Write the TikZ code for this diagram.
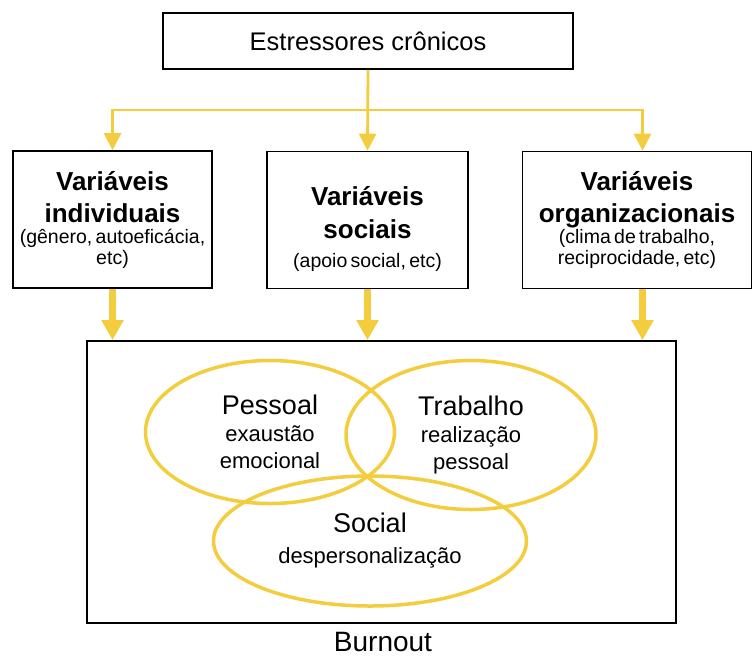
\documentclass[tikz,border=0pt]{standalone}
\usepackage{fontspec}
\setmainfont{Liberation Sans}
\usetikzlibrary{arrows.meta,shapes.geometric}
\definecolor{burnyellow}{RGB}{244,205,62}
\begin{document}
\begin{tikzpicture}[x=1pt,y=-1pt,
  box/.style={draw=black,line width=1.6pt,inner sep=0pt,align=center},
  varbox/.style={box,minimum height=137pt,text width=196pt},
  venn/.style={draw=burnyellow,line width=3.5pt,ellipse,inner sep=0pt,align=center,text width=#1},
  feed/.style={draw=burnyellow,line width=2.8pt,line join=miter,-{Triangle[width=17pt,length=17pt]}},
  flow/.style={draw=burnyellow,line width=7.5pt,-{Triangle[width=21pt,length=20pt]}}
]
\useasboundingbox (0,0) rectangle (752,657);

% source of stress
\node[box,minimum width=410pt,minimum height=56pt,font=\fontsize{25.5}{30}\selectfont]
  (stress) at (368,41) {Estressores crônicos};

% the three groups of variables
\node[varbox,minimum width=199pt] (indiv) at (112.5,219.5)
  {{\fontsize{26}{32}\selectfont\bfseries Variáveis\\individuais\par}
   {\fontsize{19.5}{21}\selectfont (gênero, autoeficácia,\\etc)\par}};
\node[varbox,minimum width=201pt] (soc) at (367.5,220)
  {{\fontsize{26}{33}\selectfont\bfseries\rule{0pt}{37pt}Variáveis\\sociais\par}
   {\fontsize{19.5}{29}\selectfont (apoio social, etc)\par}};
\node[varbox,minimum width=229pt,text width=226pt] (org) at (637,220)
  {{\fontsize{26}{32}\selectfont\bfseries Variáveis\\organizacionais\par}
   {\fontsize{19.5}{21}\selectfont (clima de trabalho,\\reciprocidade, etc)\par}};

% burnout frame
\node[box,minimum width=589pt,minimum height=282pt] (burnout) at (381.5,482) {};
\node[font=\fontsize{28}{32}\selectfont] (burnlabel) at (383,642) {Burnout};

% the three dimensions
\node[venn=160pt,minimum width=249pt,minimum height=143pt] (pessoal) at (270,432)
  {{\fontsize{27}{30}\selectfont Pessoal\par}
   {\fontsize{22}{27}\selectfont exaustão\\emocional\par}};
\node[venn=160pt,minimum width=250pt,minimum height=149pt] (trabalho) at (471,435)
  {{\fontsize{27}{30}\selectfont Trabalho\par}
   {\fontsize{22}{27}\selectfont realização\\pessoal\par}};
\node[venn=210pt,minimum width=313pt,minimum height=130pt] (social) at (370,541)
  {{\fontsize{27}{30}\selectfont Social\par}
   {\fontsize{22}{31}\selectfont despersonalização\par}};

% stressors feed the variables
\coordinate (split) at (stress.south |- 0,110);
\draw[feed] (stress.south) -- (soc.north);
\draw[feed] (split) -| (indiv.north);
\draw[feed] (split) -| ([xshift=5.5pt]org.north);

% variables lead into burnout
\draw[flow] (indiv.south) -- (indiv.south |- burnout.north);
\draw[flow] (soc.south) -- (soc.south |- burnout.north);
\draw[flow] ([xshift=5.5pt]org.south) -- ([xshift=5.5pt]org.south |- burnout.north);
\end{tikzpicture}
\end{document}
